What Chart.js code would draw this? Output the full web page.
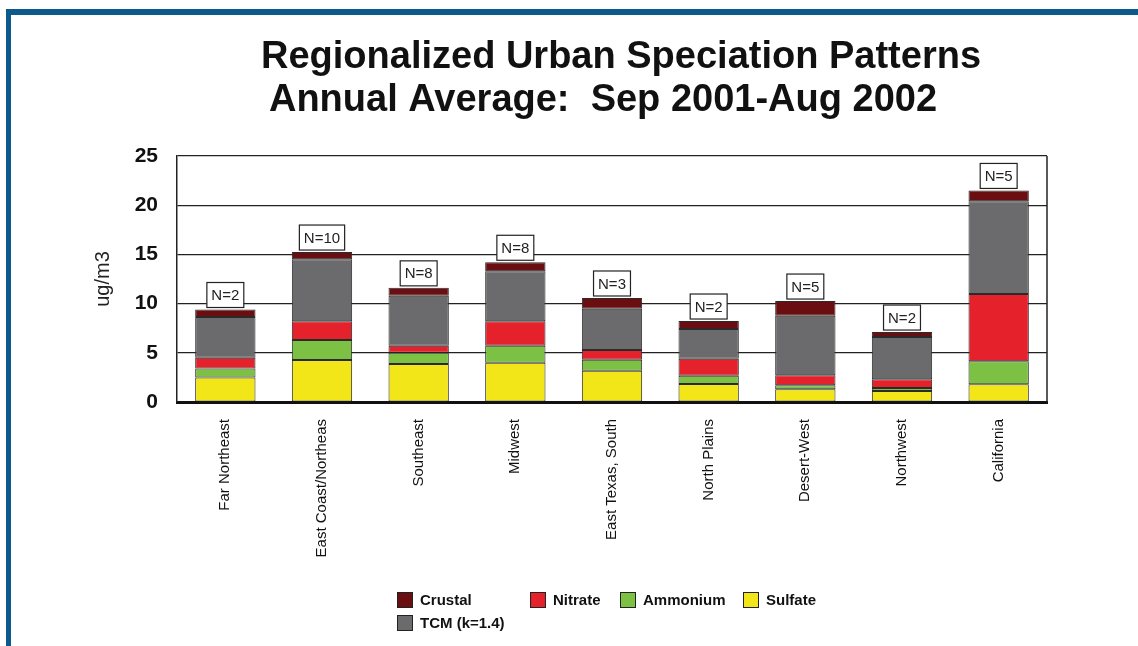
<!DOCTYPE html>
<html lang="en">
<head>
    <meta charset="UTF-8">
    <title>Regionalized Urban Speciation Patterns</title>
    <script src="https://cdn.jsdelivr.net/npm/chart.js"></script>
    <style>
        html, body { margin: 0; padding: 0; background: #fff; }
        #topbar { position: absolute; left: 6px; top: 9px; right: 0; height: 6px; background: #0b5a8b; }
        #leftbar { position: absolute; left: 6px; top: 9px; width: 5px; bottom: 0; background: #0b5a8b; }
        #grafico { position: absolute; left: 0; top: 0; }
    </style>
</head>
<body>
    <div id="topbar"></div>
    <div id="leftbar"></div>
    <canvas id="grafico" width="1138" height="646"></canvas>

    <script>
        // values (ug/m3), stacked bottom to top
        const regions = ['Far Northeast', 'East Coast/Northeas', 'Southeast', 'Midwest', 'East Texas, South',
                         'North Plains', 'Desert-West', 'Northwest', 'California'];
        const sulfate  = [2.50, 4.27, 3.86, 4.00, 3.18, 1.83, 1.29, 1.12, 1.80];
        const ammonium = [0.90, 2.03, 1.15, 1.72, 1.12, 0.84, 0.40, 0.30, 2.33];
        const nitrate  = [1.10, 1.90, 0.71, 2.48, 0.98, 1.73, 1.02, 0.88, 6.85];
        const tcm      = [4.15, 6.30, 5.08, 5.10, 4.20, 3.02, 6.06, 4.30, 9.42];
        const crustal  = [0.75, 0.74, 0.80, 0.90, 1.09, 0.81, 1.49, 0.51, 1.10];
        const sampleN  = ['N=2', 'N=10', 'N=8', 'N=8', 'N=3', 'N=2', 'N=5', 'N=2', 'N=5'];
        const titleLines = ['Regionalized Urban Speciation Patterns', 'Annual Average:  Sep 2001-Aug 2002'];

        const FONT = '"Liberation Sans", Arial, sans-serif';

        // two-line title over the plot (second line sits a bit left, as in the original)
        const titlePlugin = {
            id: 'titulo',
            afterDraw(chart) {
                const ctx = chart.ctx;
                const cx = (chart.chartArea.left + chart.chartArea.right) / 2;
                ctx.save();
                ctx.fillStyle = '#111';
                ctx.font = 'bold 38px ' + FONT;
                ctx.textAlign = 'center';
                ctx.textBaseline = 'middle';
                ctx.fillText(titleLines[0], cx + 9, 58);
                ctx.fillText(titleLines[1], cx - 9, 101);
                ctx.restore();
            }
        };

        // right edge of the plot box
        const framePlugin = {
            id: 'moldura',
            beforeDatasetsDraw(chart) {
                const {ctx, chartArea: a} = chart;
                ctx.save();
                ctx.strokeStyle = '#222';
                ctx.lineWidth = 1.5;
                ctx.beginPath();
                ctx.moveTo(a.right, a.top);
                ctx.lineTo(a.right, a.bottom);
                ctx.stroke();
                ctx.restore();
            }
        };

        // boxed N= labels on top of each stack
        const nPlugin = {
            id: 'rotulosN',
            afterDatasetsDraw(chart) {
                const ctx = chart.ctx;
                const meta = chart.getDatasetMeta(chart.data.datasets.length - 1);
                ctx.save();
                ctx.font = '15px ' + FONT;
                ctx.textAlign = 'center';
                ctx.textBaseline = 'middle';
                meta.data.forEach((bar, i) => {
                    const w = ctx.measureText(sampleN[i]).width + 9;
                    const h = 25;
                    const bottom = bar.y - 2;
                    ctx.fillStyle = '#fff';
                    ctx.fillRect(bar.x - w / 2, bottom - h, w, h);
                    ctx.strokeStyle = '#222';
                    ctx.lineWidth = 1.2;
                    ctx.strokeRect(bar.x - w / 2, bottom - h, w, h);
                    ctx.fillStyle = '#222';
                    ctx.fillText(sampleN[i], bar.x, bottom - h / 2 + 1);
                });
                ctx.restore();
            }
        };

        // legend laid out in a grid like the original
        const legendSlots = [
            {ds: 4, x: 397, y: 600}, {ds: 2, x: 530, y: 600}, {ds: 1, x: 620, y: 600},
            {ds: 0, x: 743, y: 600}, {ds: 3, x: 397, y: 623}
        ];
        const legendPlugin = {
            id: 'legenda',
            afterDraw(chart) {
                const ctx = chart.ctx;
                ctx.save();
                ctx.font = 'bold 15px ' + FONT;
                ctx.textBaseline = 'middle';
                legendSlots.forEach(s => {
                    const ds = chart.data.datasets[s.ds];
                    ctx.fillStyle = ds.backgroundColor;
                    ctx.fillRect(s.x, s.y - 8, 16, 16);
                    ctx.strokeStyle = '#222';
                    ctx.lineWidth = 1;
                    ctx.strokeRect(s.x + 0.5, s.y - 7.5, 15, 15);
                    ctx.fillStyle = '#111';
                    ctx.fillText(ds.label, s.x + 23, s.y + 1);
                });
                ctx.restore();
            }
        };

        const ctx = document.getElementById('grafico').getContext('2d');
        const serie = (label, data, color) => ({
            label: label,
            data: data,
            backgroundColor: color,
            borderColor: '#2a2a2a',
            borderWidth: 1,
            borderSkipped: false,
            categoryPercentage: 0.8,
            barPercentage: 0.78
        });

        new Chart(ctx, {
            type: 'bar',
            data: {
                labels: regions,
                datasets: [
                    serie('Sulfate', sulfate, '#f2e619'),
                    serie('Ammonium', ammonium, '#7cc144'),
                    serie('Nitrate', nitrate, '#e5212b'),
                    serie('TCM (k=1.4)', tcm, '#6b6b6d'),
                    serie('Crustal', crustal, '#6a0e12')
                ]
            },
            options: {
                responsive: false,
                animation: false,
                layout: { padding: { top: 156, right: 91, left: 0, bottom: 0 } },
                plugins: {
                    legend: { display: false },
                    title: { display: false },
                    tooltip: { enabled: false }
                },
                scales: {
                    x: {
                        stacked: true,
                        afterFit: s => { s.height = 244; },
                        grid: { display: true, drawOnChartArea: false, drawTicks: false },
                        border: { display: true, color: '#111', width: 3 },
                        ticks: {
                            minRotation: 90,
                            maxRotation: 90,
                            padding: 17,
                            color: '#111',
                            font: { family: FONT, size: 15 }
                        }
                    },
                    y: {
                        stacked: true,
                        min: 0,
                        max: 25,
                        afterFit: s => { s.width = 177; },
                        grid: { color: '#222', lineWidth: 1.2, drawTicks: false },
                        border: { display: true, color: '#222', width: 1.5 },
                        ticks: {
                            stepSize: 5,
                            padding: 19,
                            color: '#111',
                            font: { family: FONT, size: 21, weight: 'bold' }
                        },
                        title: {
                            display: true,
                            text: 'ug/m3',
                            color: '#222',
                            padding: { top: 91, bottom: 0 },
                            font: { family: FONT, size: 20 }
                        }
                    }
                }
            },
            plugins: [titlePlugin, framePlugin, nPlugin, legendPlugin]
        });
    </script>
</body>
</html>
